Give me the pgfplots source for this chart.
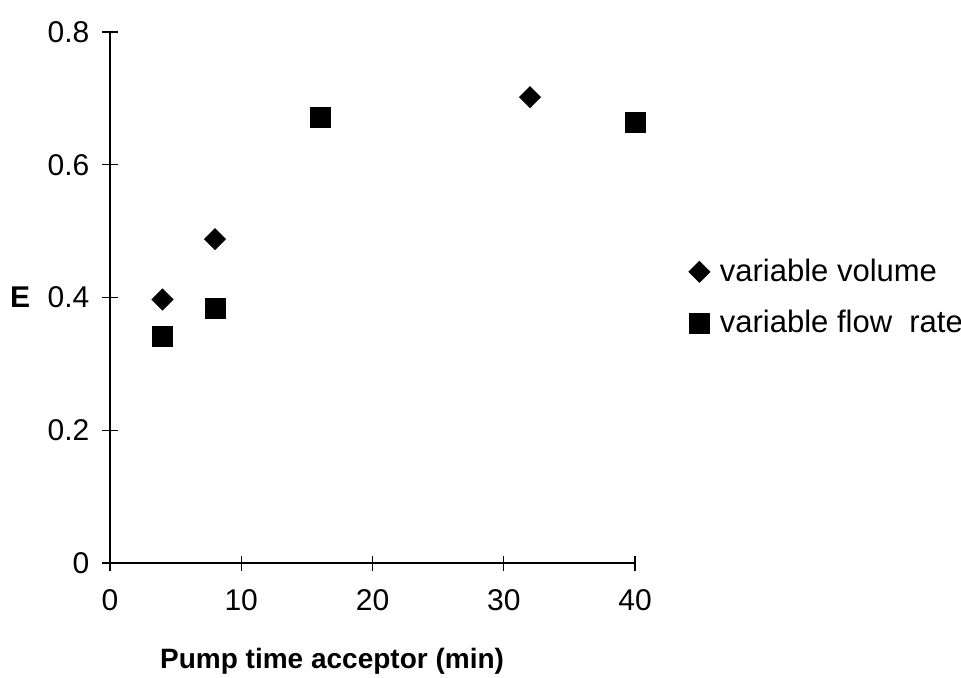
\documentclass[border=0pt]{standalone}
\usepackage{pgfplots}
\pgfplotsset{compat=1.18}
\usepackage{fontspec}
\setmainfont{Liberation Sans}
\begin{document}
\begin{tikzpicture}
\useasboundingbox (-55pt,-57pt) rectangle (425.5pt,281.5pt);
\begin{axis}[
  at={(0,0)}, anchor=south west,
  scale only axis,
  width=262.5pt, height=265.5pt,
  xmin=0, xmax=40, ymin=0, ymax=0.8,
  axis x line=bottom, axis y line=left,
  axis line style={-, line width=0.7pt},
  xtick={0,10,20,30,40},
  ytick={0,0.2,0.4,0.6,0.8},
  tick align=center,
  major tick length=7.5pt,
  tick style={black, line width=0.6pt},
  /pgf/number format/assume math mode=true,
  ticklabel style={font=\fontsize{15}{17}\selectfont},
  xticklabel style={yshift=-6pt},
  yticklabel style={xshift=-3pt},
  xlabel={Pump time acceptor (min)},
  xlabel style={font=\fontsize{14}{16}\selectfont\bfseries, at={(axis description cs:0.423,-0.185)}, anchor=center},
  ylabel={E},
  ylabel style={font=\fontsize{15}{17}\selectfont\bfseries, rotate=-90, at={(axis description cs:-0.171,0.5)}, anchor=center},
  legend style={draw=none, fill=none, at={(axis description cs:1.102,0.5)}, anchor=west,
    font=\fontsize{15.5}{18}\selectfont, row sep=9pt, inner sep=0pt},
  legend cell align=left,
  clip=false,
]
\addplot[only marks, mark=square*, mark size=3.7pt, mark options={rotate=45, fill=black, draw=black}]
  coordinates {(4,0.397) (8,0.488) (32,0.702)};
\addlegendentry{\hspace{3pt}variable volume}
\addplot[only marks, mark=square*, mark size=5pt, mark options={fill=black, draw=black}]
  coordinates {(4,0.342) (8,0.384) (16,0.672) (40,0.664)};
\addlegendentry{\hspace{3pt}variable flow\ \ rate}
\end{axis}
\end{tikzpicture}
\end{document}
